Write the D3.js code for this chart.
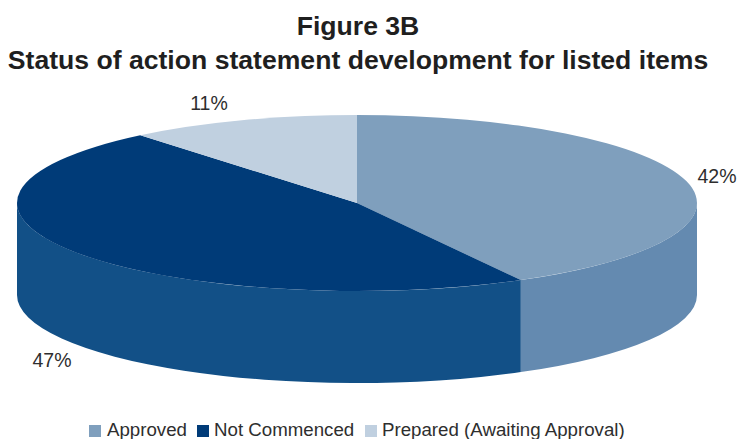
<!DOCTYPE html>
<html>
<head>
<meta charset="utf-8">
<script src="https://cdn.jsdelivr.net/npm/d3@7/dist/d3.min.js"></script>
<style>
html, body { margin: 0; padding: 0; background: #fff; overflow: hidden; }
svg { display: block; font-family: "Liberation Sans", Arial, sans-serif; }
</style>
</head>
<body>
<script>
// Chart content
const titleLines = ["Figure 3B", "Status of action statement development for listed items"];
const categories = ["Approved", "Not Commenced", "Prepared (Awaiting Approval)"];
const values = [42, 47, 11];
const topColors = ["#7f9fbd", "#003b78", "#c0d0e0"];
const sideColors = ["#648ab0", "#125087", "#a3b5c8"];
const labelAnchors = [[717, 183], [52, 367], [209, 110]];
const legendSwatchX = [89, 197, 365];
const legendTextX = [107, 214, 382];

const width = 737, height = 439;
const cx = 357, cy = 203, rx = 340, ry = 88, depth = 92;
const squash = ry / rx;

const svg = d3.select("body").append("svg").attr("width", width).attr("height", height);

// Title
svg.selectAll("text.title").data(titleLines).join("text")
  .attr("class", "title")
  .attr("x", 358)
  .attr("y", (d, i) => i ? 69 : 35)
  .attr("text-anchor", "middle")
  .attr("font-weight", "bold")
  .attr("font-size", 26.6)
  .attr("fill", "#1f1f1f")
  .text(d => d);

const arcs = d3.pie().value(d => d).sort(null)(values);
const disc = svg.append("g").attr("transform", `translate(${cx},${cy}) scale(1,${squash})`);

// Side wall: only the front half of the rim (pie angles 90deg to 270deg) faces the viewer
const wallPath = (a0, a1) => {
  const p = d3.path(), off = -Math.PI / 2, dz = depth / squash;
  p.arc(0, 0, rx, a0 + off, a1 + off, false);
  p.arc(0, dz, rx, a1 + off, a0 + off, true);
  p.closePath();
  return p.toString();
};
const front = [Math.PI / 2, Math.PI * 1.5];
disc.selectAll("path.wall")
  .data(arcs.filter(a => a.endAngle > front[0] && a.startAngle < front[1]))
  .join("path")
  .attr("class", "wall")
  .attr("fill", d => sideColors[d.index])
  .attr("d", d => wallPath(Math.max(d.startAngle, front[0]), Math.min(d.endAngle, front[1])));

// Top face
const arc = d3.arc().innerRadius(0).outerRadius(rx);
disc.selectAll("path.top").data(arcs).join("path")
  .attr("class", "top")
  .attr("fill", d => topColors[d.index])
  .attr("d", arc);

// Percentage labels
svg.selectAll("text.pct").data(arcs).join("text")
  .attr("class", "pct")
  .attr("x", d => labelAnchors[d.index][0])
  .attr("y", d => labelAnchors[d.index][1])
  .attr("text-anchor", "middle")
  .attr("font-size", 19.5)
  .attr("fill", "#2e2e2e")
  .text(d => d.value + "%");

// Legend
const legend = svg.selectAll("g.key").data(categories).join("g").attr("class", "key");
legend.append("rect")
  .attr("x", (d, i) => legendSwatchX[i]).attr("y", 425)
  .attr("width", 12).attr("height", 12)
  .attr("fill", (d, i) => topColors[i]);
legend.append("text")
  .attr("x", (d, i) => legendTextX[i]).attr("y", 436)
  .attr("font-size", 18.7)
  .attr("fill", "#2e2e2e")
  .text(d => d);
</script>
</body>
</html>
